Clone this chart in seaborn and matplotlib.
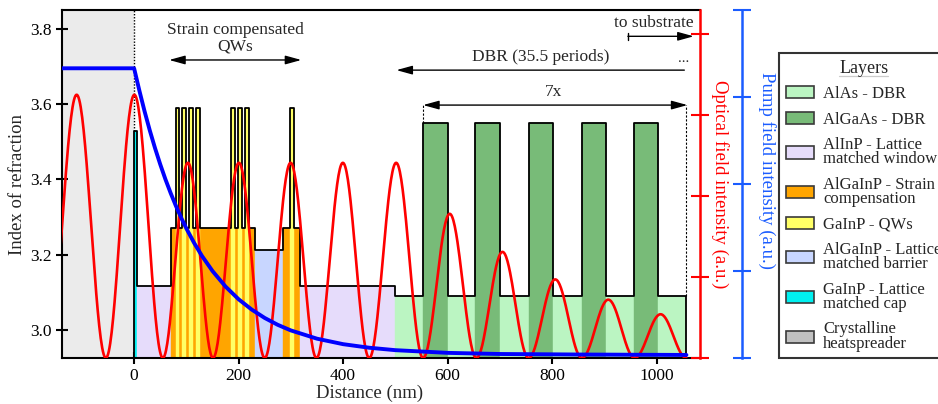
import numpy as np
import pandas as pd
import matplotlib
matplotlib.use("Agg")
import matplotlib.pyplot as plt
import seaborn as sns
from matplotlib.patches import Patch
from matplotlib.lines import Line2D

# ---------------------------------------------------------------- data
# Epitaxial layer stack: edges in nm, refractive index and material of each layer
layer_edges = [0, 5, 71,
               79.7, 86.7, 92.5, 99.5, 105.9, 112.9, 119.4, 126.4,
               185.3, 192.3, 198.7, 205.7, 212, 219,
               231, 285, 298.2, 305.2, 318,
               500, 553, 601, 653, 701, 755, 801, 857, 904, 956, 1002, 1057]
layer_index = [3.53, 3.117,
               3.27, 3.59, 3.27, 3.59, 3.27, 3.59, 3.27, 3.59,
               3.27, 3.59, 3.27, 3.59, 3.27, 3.59, 3.27,
               3.213, 3.27, 3.59, 3.27,
               3.117, 3.09, 3.55, 3.09, 3.55, 3.09, 3.55, 3.09, 3.55, 3.09, 3.55, 3.09]
layer_material = ["cap", "window",
                  "strain", "qw", "strain", "qw", "strain", "qw", "strain", "qw",
                  "strain", "qw", "strain", "qw", "strain", "qw", "strain",
                  "barrier", "strain", "qw", "strain",
                  "window", "alas", "algaas", "alas", "algaas", "alas", "algaas",
                  "alas", "algaas", "alas", "algaas", "alas"]

# Optical standing wave: node positions (nm) and peak height of each lobe
field_nodes = [-166, -54, 55, 151, 250, 349, 450, 553, 655, 755, 857, 958, 1057]
field_peaks = [3.25, 3.25, 2.41, 2.41, 2.41, 2.41, 2.41, 1.78, 1.31, 0.97, 0.72, 0.54]

# Pump field intensity along the structure
pump_x = [-138, 0, 10, 20, 30, 40, 50, 60, 70, 80, 90, 100, 115, 130, 150, 175,
          200, 225, 250, 275, 300, 350, 400, 450, 500, 600, 700, 850, 1057]
pump_v = [3.33, 3.33, 3.075, 2.836, 2.616, 2.413, 2.226, 2.053, 1.895, 1.748,
          1.613, 1.489, 1.321, 1.172, 1.000, 0.821, 0.675, 0.557, 0.460, 0.381,
          0.317, 0.222, 0.159, 0.118, 0.090, 0.059, 0.046, 0.040, 0.035]

x_ticks = [0, 200, 400, 600, 800, 1000]
n_ticks = [3.0, 3.2, 3.4, 3.6, 3.8]

legend_keys = ["alas", "algaas", "window", "strain", "qw", "barrier", "cap", "heat"]
legend_labels = ["AlAs - DBR", "AlGaAs - DBR", "AlInP - Lattice\nmatched window",
                 "AlGaInP - Strain\ncompensation", "GaInP - QWs",
                 "AlGaInP - Lattice\nmatched barrier", "GaInP - Lattice\nmatched cap",
                 "Crystalline\nheatspreader"]

colors = {"alas": "#bbf5c2", "algaas": "#78bb78", "window": "#e6dcfb",
          "strain": "#ffa500", "qw": "#ffff66", "barrier": "#c8d6ff",
          "cap": "#00f0f0", "heat": "#c0c0c0"}

# ---------------------------------------------------------------- style
sns.set_theme(style="ticks")
plt.rcParams["font.family"] = ["Liberation Serif", "DejaVu Serif"]

W, H = 938, 404
fig = plt.figure(figsize=(W / 100, H / 100), dpi=100)
ax = fig.add_axes([62 / W, 46 / H, 638 / W, 348 / H])

XMIN, XMAX = -138, 1083
NMIN, NMAX = 2.925, 3.851

# heatspreader region
ax.axvspan(XMIN, 0, color=colors["heat"], alpha=0.3, lw=0, zorder=0)

# layer fills (non-QW first, QWs on top)
order = [i for i, m in enumerate(layer_material) if m != "qw"] + \
        [i for i, m in enumerate(layer_material) if m == "qw"]
for i in order:
    c = colors[layer_material[i]]
    ax.fill_between([layer_edges[i], layer_edges[i + 1]], NMIN, layer_index[i],
                    facecolor=c, edgecolor=c, lw=0.3, zorder=1)

# index profile outline
xs = [layer_edges[0]] + layer_edges[:-1] + [layer_edges[-1]]
ys = [NMIN] + layer_index + [NMIN]
ax.plot(xs, ys, drawstyle="steps-post", color="black", lw=1.3, zorder=3)
ax.plot([0, 0], [layer_index[0], NMAX], ls=(0, (1, 1.2)), color="black", lw=1.0, zorder=3)

ax.set_xlim(XMIN, XMAX)
ax.set_ylim(NMIN, NMAX)
ax.set_xticks(x_ticks)
ax.set_yticks(n_ticks)
ax.set_yticklabels([f"{v:.1f}" for v in n_ticks])
ax.tick_params(direction="inout", length=9, width=1.5, labelsize=12.5, pad=3,
               colors="black")
for s in ["left", "top", "bottom"]:
    ax.spines[s].set_linewidth(1.5)
    ax.spines[s].set_color("black")
ax.spines["right"].set_visible(False)
ax.set_xlabel("")
ax.set_ylabel("")

# ---------------------------------------------------------------- annotations
head = dict(color="black", lw=1.0, shrinkA=0, shrinkB=0, mutation_scale=12)
ax.annotate("", xy=(320, 3.718), xytext=(67, 3.718),
            arrowprops=dict(arrowstyle="<|-|>,head_length=0.8,head_width=0.22", **head))
ax.text(194, 3.776, "Strain compensated\nQWs", ha="center", va="center",
        fontsize=12.5, linespacing=1.05)

ax.annotate("", xy=(502, 3.691), xytext=(1053, 3.691),
            arrowprops=dict(arrowstyle="-|>,head_length=0.8,head_width=0.22", **head))
ax.text(778, 3.727, "DBR (35.5 periods)", ha="center", va="center", fontsize=12.5)
ax.text(1062, 3.705, "...", ha="right", va="bottom", fontsize=11)

ax.annotate("", xy=(1059, 3.598), xytext=(553, 3.598),
            arrowprops=dict(arrowstyle="<|-|>,head_length=0.8,head_width=0.22", **head))
ax.text(803, 3.632, "7x", ha="center", va="center", fontsize=12.5)
ax.plot([553, 553], [3.55, 3.598], ls=(0, (2, 1.5)), color="black", lw=0.8, zorder=3)
ax.plot([1057, 1057], [3.09, 3.598], ls=(0, (2, 1.5)), color="black", lw=0.8, zorder=3)

ax.annotate("", xy=(1071, 3.781), xytext=(945, 3.781),
            arrowprops=dict(arrowstyle="-|>,head_length=0.8,head_width=0.22", **head))
ax.plot([945, 945], [3.772, 3.790], color="black", lw=1.0)
ax.text(1071, 3.816, "to substrate", ha="right", va="center", fontsize=12.5)

# ---------------------------------------------------------------- optical field
fx, fy = [], []
for a, b, p in zip(field_nodes[:-1], field_nodes[1:], field_peaks):
    t = np.linspace(a, b, 80)
    fx.append(t)
    fy.append(p * np.sin(np.pi * (t - a) / (b - a)) ** 2)
field = pd.DataFrame({"x": np.concatenate(fx), "I": np.concatenate(fy)})

ax_r = ax.twinx()
sns.lineplot(data=field, x="x", y="I", ax=ax_r, color="#ff0000", lw=1.9,
             sort=False, estimator=None)
ax_r.set_ylim(0, 4.296)
ax_r.set_yticks([0, 1, 2, 3, 4])
ax_r.set_yticklabels([])
ax_r.tick_params(axis="y", direction="inout", length=13, width=1.5, colors="#ff0000")
for s in ["left", "top", "bottom"]:
    ax_r.spines[s].set_visible(False)
ax_r.spines["right"].set_color("#ff0000")
ax_r.spines["right"].set_linewidth(1.8)
ax_r.set_xlabel("")
ax_r.set_ylabel("")

# ---------------------------------------------------------------- pump field
pump = pd.DataFrame({"x": pump_x, "P": pump_v})
ax_b = ax.twinx()
sns.lineplot(data=pump, x="x", y="P", ax=ax_b, color="#0000ff", lw=2.8,
             sort=False, estimator=None)
ax_b.set_ylim(0, 4)
ax_b.set_yticks([0, 1, 2, 3, 4])
ax_b.set_yticklabels([])
ax_b.spines["right"].set_position(("axes", (742 - 62) / 638))
ax_b.tick_params(axis="y", direction="inout", length=13, width=1.5, colors="#1a5cff")
for s in ["left", "top", "bottom"]:
    ax_b.spines[s].set_visible(False)
ax_b.spines["right"].set_color("#1a5cff")
ax_b.spines["right"].set_linewidth(1.8)
ax_b.set_xlabel("")
ax_b.set_ylabel("")
ax.set_xlim(XMIN, XMAX)

# ---------------------------------------------------------------- axis titles
fig.text(370 / W, 1 - 393 / H, "Distance (nm)", ha="center", va="center", fontsize=13.5)
fig.text(18 / W, 1 - 185 / H, "Index of refraction", ha="center", va="center",
         rotation=90, fontsize=13.5)
fig.text(720 / W, 1 - 184 / H, "Optical field intensity (a.u.)", ha="center",
         va="center", rotation=270, fontsize=13.5, color="#ff0000")
fig.text(767 / W, 1 - 170 / H, "Pump field intensity (a.u.)", ha="center",
         va="center", rotation=270, fontsize=13.5, color="#1a5cff")

# ---------------------------------------------------------------- legend
handles = [Patch(facecolor=colors[k], edgecolor="#3a3a3a", lw=1.2) for k in legend_keys]
leg = fig.legend(handles, legend_labels, loc="upper left",
                 bbox_to_anchor=(779 / W, 1 - 53 / H), frameon=True, fancybox=False,
                 edgecolor="black", fontsize=12, title="Layers", title_fontsize=13,
                 handlelength=1.7, handleheight=0.75, handletextpad=0.55,
                 labelspacing=0.57, borderpad=0.4, borderaxespad=0)
leg.get_frame().set_linewidth(1.5)
for t in leg.get_texts():
    t.set_linespacing(0.85)

fig.canvas.draw()
bb = leg.get_title().get_window_extent()
inv = fig.transFigure.inverted()
(x0, y0), (x1, _) = inv.transform([(bb.x0, bb.y0 + 1), (bb.x1, bb.y0 + 1)])
fig.add_artist(Line2D([x0, x1], [y0, y0], color="black", lw=0.9))

fig.savefig("out.png", dpi=100)
